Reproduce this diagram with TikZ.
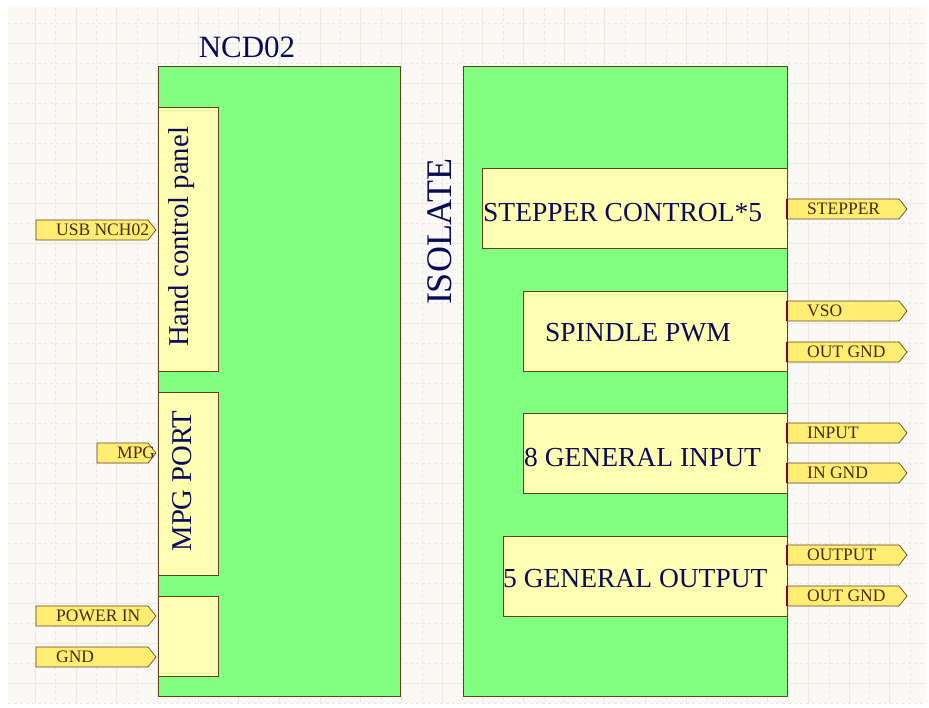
\documentclass[tikz,border=0pt]{standalone}
\usepackage{fontspec}
\setmainfont{Liberation Serif}
\usepackage{xcolor}
\usetikzlibrary{positioning}
\definecolor{boardgreen}{RGB}{128,255,128}
\definecolor{blockyellow}{RGB}{255,255,178}
\definecolor{portyellow}{RGB}{255,238,115}
\definecolor{edgebrown}{RGB}{100,65,35}
\definecolor{portred}{RGB}{128,0,0}
\definecolor{labelnavy}{RGB}{10,10,90}
\definecolor{portbrown}{RGB}{75,40,10}
\definecolor{sheetbg}{RGB}{251,249,245}
\definecolor{sheetgrid}{RGB}{237,233,225}

\begin{document}
\begin{tikzpicture}[x=1pt,y=-1pt,
  board/.style={fill=boardgreen,draw=edgebrown,line width=0.8pt},
  block/.style={fill=blockyellow,draw=edgebrown,line width=0.8pt},
  port/.style={fill=portyellow,draw=edgebrown,line width=0.7pt},
  porttext/.style={anchor=west,inner sep=0pt,text=portbrown,font=\fontsize{17.5}{17.5}\selectfont},
  blocktext/.style={inner sep=0pt,text=labelnavy,font=\fontsize{27.5}{27.5}\selectfont}]
  \useasboundingbox (0,0) rectangle (929,708);

  % sheet with grid
  \fill[white] (0,0) rectangle (929,708);
  \fill[sheetbg] (8,7) rectangle (925,703);
  \foreach \gx in {35.3,75.97,...,925} \draw[sheetgrid,line width=0.4pt] (\gx,7) -- (\gx,703);
  \foreach \gx in {55.6,96.3,...,925} \draw[sheetgrid,line width=0.4pt,dashed] (\gx,7) -- (\gx,703);
  \foreach \gy in {43,83,...,703} \draw[sheetgrid,line width=0.4pt] (8,\gy) -- (925,\gy);
  \foreach \gy in {23,63,...,703} \draw[sheetgrid,line width=0.4pt,dashed] (8,\gy) -- (925,\gy);

  % NCD02 board
  \draw[board] (158,66) rectangle (400,696);
  \node[blocktext,font=\fontsize{31}{31}\selectfont] (ncd) at (247,47) {NCD02};
  \draw[block] (158,107) rectangle (218,371);
  \draw[block] (158,392) rectangle (218,575);
  \draw[block] (158,596) rectangle (218,676);
  \node[blocktext,rotate=90,font=\fontsize{28.7}{28.7}\selectfont] (hand) at (182,237) {Hand control panel};
  \node[blocktext,rotate=90,font=\fontsize{28.7}{28.7}\selectfont] (mpgport) at (182,481) {MPG PORT};

  % isolated side
  \draw[board] (463,66) rectangle (787,696);
  \node[blocktext,rotate=90,font=\fontsize{36}{36}\selectfont] (isolate) at (440,232) {ISOLATE};
  \draw[block] (482,168) rectangle (787,248);
  \draw[block] (523,291) rectangle (787,371);
  \draw[block] (523,413) rectangle (787,493);
  \draw[block] (503,536) rectangle (787,616);
  \node[blocktext,anchor=west] (stepper) at (483,213) {STEPPER CONTROL*5};
  \node[blocktext] (spindle) at (638,333) {SPINDLE PWM};
  \node[blocktext,anchor=west] (ginput) at (524,457) {8 GENERAL INPUT};
  \node[blocktext,anchor=west] (goutput) at (503,579) {5 GENERAL OUTPUT};

  % ports
  \foreach \pn/\px/\py/\pw/\pl in {usb/36/230/120/USB NCH02, mpg/97/453/59/MPG,
      pwrin/36/616/120/POWER IN, gnd/36/657/120/GND,
      stp/787/209/120/STEPPER, vso/787/311/120/VSO, outgnda/787/352/120/OUT GND,
      inp/787/433/120/INPUT, ingnd/787/473/120/IN GND,
      outp/787/555/120/OUTPUT, outgndb/787/596/120/OUT GND}{
    \draw[port] (\px,\py-10) -- (\px+\pw-8,\py-10) -- (\px+\pw,\py) -- (\px+\pw-8,\py+10) -- (\px,\py+10) -- cycle;
    \node[porttext] (\pn) at (\px+20,\py) {\pl};
  }
  \foreach \py in {209,311,352,433,473,555,596}
    \draw[portred,line width=1.6pt] (787,\py-10) -- (787,\py+10);
\end{tikzpicture}
\end{document}
